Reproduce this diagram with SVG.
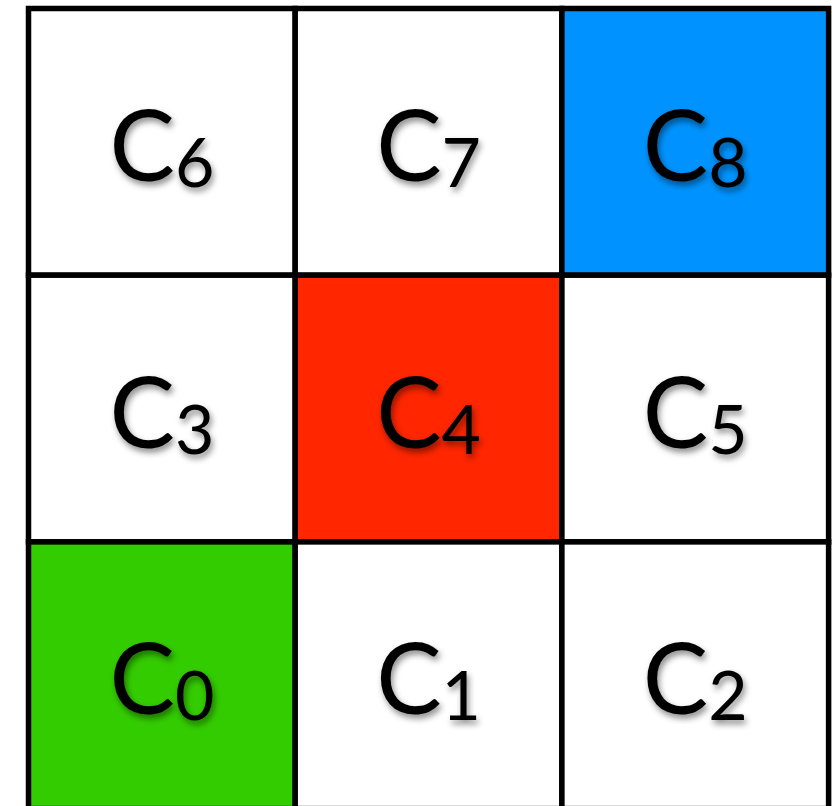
<svg xmlns="http://www.w3.org/2000/svg" width="840" height="806" viewBox="0 0 840 806">
<defs>
<filter id="sh" x="-20%" y="-20%" width="140%" height="150%">
<feDropShadow dx="2" dy="4" stdDeviation="3" flood-color="#000" flood-opacity="0.45"/>
</filter>
</defs>
<style>
.cell{stroke:#000;stroke-width:5.5}
.lbl{font-family:Lato,"Open Sans","Liberation Sans",sans-serif;font-size:98px;fill:#000;text-anchor:middle;filter:url(#sh)}
.sub{font-size:68px}
</style>
<rect width="840" height="806" fill="#fff"/>
<g id="c6"><rect class="cell" x="28.5" y="8.5" width="266.7" height="266.7" fill="#fff"/><text class="lbl" x="162" y="181">C<tspan class="sub" dy="6">6</tspan></text></g>
<g id="c7"><rect class="cell" x="295.2" y="8.5" width="266.7" height="266.7" fill="#fff"/><text class="lbl" x="428.6" y="181">C<tspan class="sub" dy="6">7</tspan></text></g>
<g id="c8"><rect class="cell" x="561.9" y="8.5" width="266.7" height="266.7" fill="#0093FF"/><text class="lbl" x="695.3" y="181">C<tspan class="sub" dy="6">8</tspan></text></g>
<g id="c3"><rect class="cell" x="28.5" y="275.2" width="266.7" height="266.7" fill="#fff"/><text class="lbl" x="162" y="448">C<tspan class="sub" dy="6">3</tspan></text></g>
<g id="c4"><rect class="cell" x="295.2" y="275.2" width="266.7" height="266.7" fill="#FF2600"/><text class="lbl" x="428.6" y="448">C<tspan class="sub" dy="6">4</tspan></text></g>
<g id="c5"><rect class="cell" x="561.9" y="275.2" width="266.7" height="266.7" fill="#fff"/><text class="lbl" x="695.3" y="448">C<tspan class="sub" dy="6">5</tspan></text></g>
<g id="c0"><rect class="cell" x="28.5" y="541.9" width="266.7" height="266.7" fill="#33CC00"/><text class="lbl" x="162" y="714">C<tspan class="sub" dy="6">0</tspan></text></g>
<g id="c1"><rect class="cell" x="295.2" y="541.9" width="266.7" height="266.7" fill="#fff"/><text class="lbl" x="428.6" y="714">C<tspan class="sub" dy="6">1</tspan></text></g>
<g id="c2"><rect class="cell" x="561.9" y="541.9" width="266.7" height="266.7" fill="#fff"/><text class="lbl" x="695.3" y="714">C<tspan class="sub" dy="6">2</tspan></text></g>
<g id="connectors"/>
</svg>
